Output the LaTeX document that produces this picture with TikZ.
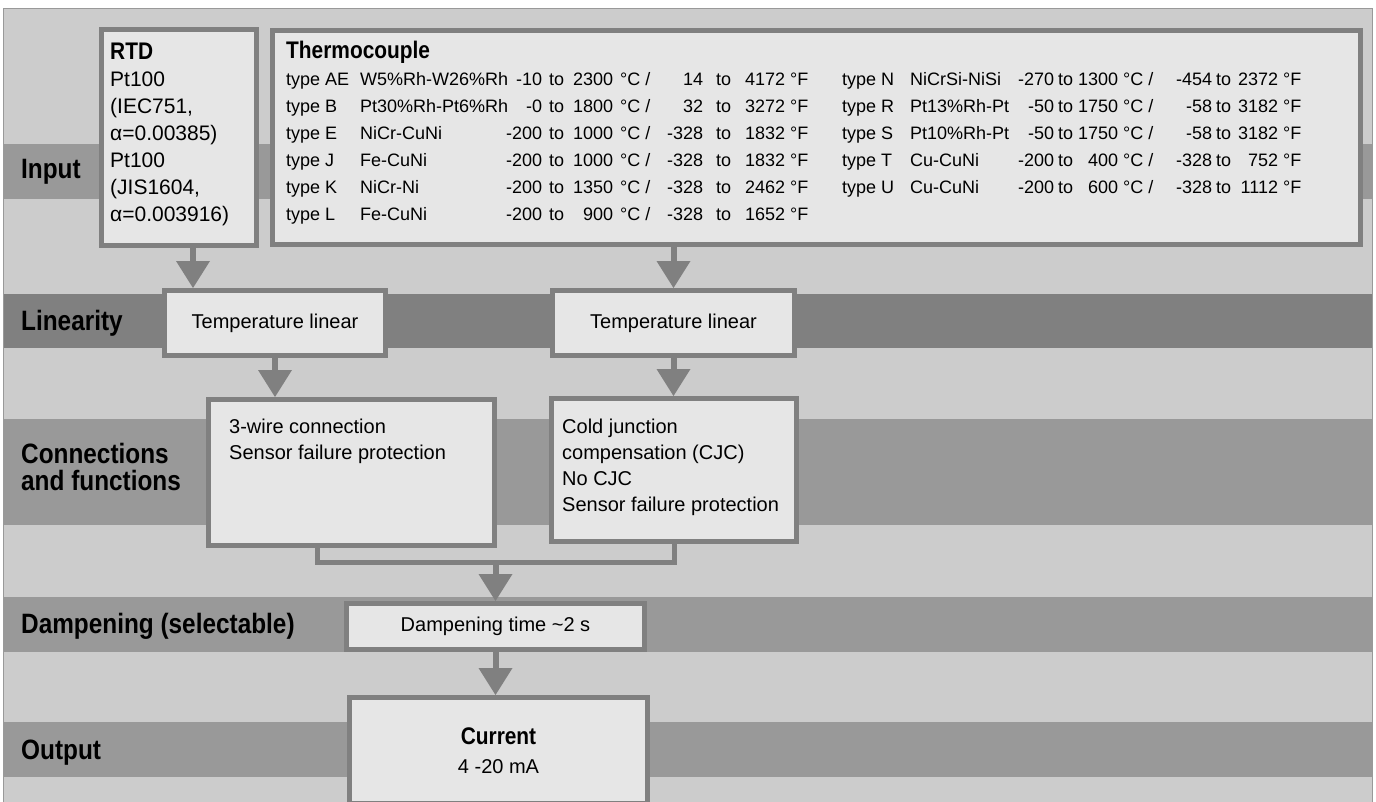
\documentclass[tikz,border=0pt]{standalone}
\usepackage{fontspec}
\setmainfont{Liberation Sans}
\newfontfamily\condfont{Liberation Sans}[FakeStretch=0.87]
\usetikzlibrary{arrows.meta,calc}
\definecolor{bggray}{HTML}{CCCCCC}
\definecolor{bandgray}{HTML}{999999}
\definecolor{lingray}{HTML}{808080}
\definecolor{boxgray}{HTML}{E6E6E6}
\definecolor{edgegray}{HTML}{808080}
\newcommand\headfont{\condfont\bfseries\fontsize{24}{27}\selectfont}
\newcommand\tcl[6]{\makebox[556pt][l]{\makebox[74pt][l]{type #1}\makebox[182pt][l]{#2}\llap{#3}\hbox to 71pt{\hspace{7pt}to\hfill #4}\hbox to 90pt{\hspace{7pt}°C /\hfill #5}\hbox to 82pt{\hspace{13pt}to\hfill #6} °F}}
\newcommand\tcr[6]{\makebox[68pt][l]{type #1}\makebox[144pt][l]{#2}\llap{#3}\hbox to 64pt{\hspace{4pt}to\hfill #4}\hbox to 94pt{\hspace{5pt}°C /\hfill #5}\hbox to 66pt{\hspace{4pt}to\hfill #6} °F}

\begin{document}
\begin{tikzpicture}[x=1pt,y=-1pt,box/.style={draw=edgegray,fill=boxgray,line width=5pt,inner sep=0pt,align=center,font=\fontsize{20}{26}\selectfont},txt/.style={inner sep=0pt,anchor=north west,align=left},lbl/.style={inner sep=0pt,anchor=base west,font=\condfont\bfseries\fontsize{28}{27}\selectfont},arr/.style={draw=edgegray,line width=6pt,-{Triangle[length=27pt,width=34pt,line width=0pt]}},conn/.style={draw=edgegray,line width=5pt}]
\useasboundingbox (0,0) rectangle (1376,801);
\fill[white] (0,0) rectangle (1376,801);
\filldraw[fill=bggray,draw=bandgray,line width=1.5pt] (3.5,8.5) rectangle (1372.5,830);
\foreach \ya/\yb in {144/199,419/525,597/652,722/777} \fill[bandgray] (4.25,\ya) rectangle (1371.75,\yb);
\fill[lingray] (4.25,294) rectangle (1371.75,348);
\node[lbl] (inlbl) at (21,178) {Input};
\node[lbl] (linlbl) at (21,330) {Linearity};
\node[lbl,anchor=north west,align=left] (conlbl) at (21,443) {Connections\\and functions};
\node[lbl] (damplbl) at (21,633) {Dampening (selectable)};
\node[lbl] (outlbl) at (21,759) {Output};
\node[box,minimum width=155pt,minimum height=216pt] (rtd) at (179,137.5) {};
\node[box,minimum width=1088pt,minimum height=214pt] (tc) at (816.5,137.5) {};
\node[box,minimum width=221pt,minimum height=65pt] (lin1) at (275,323) {Temperature linear};
\node[box,minimum width=242pt,minimum height=65pt] (lin2) at (673.5,323) {Temperature linear};
\node[box,minimum width=286pt,minimum height=146pt] (con1) at (351.5,472.5) {};
\node[box,minimum width=245pt,minimum height=143pt] (con2) at (674,470) {};
\node[box,minimum width=298pt,minimum height=46pt] (damp) at (495.5,626.5) {Dampening time \textasciitilde2 s};
\node[box,minimum width=298pt,minimum height=106pt] (out) at (498.5,750.5) {{\headfont Current}\\[3pt]4 -20 mA};
\node[txt,font=\fontsize{21}{27}\selectfont] (rtdtxt) at ([shift={(11,16)}]rtd.north west) {{\headfont RTD}\\Pt100\\(IEC751,\\α=0.00385)\\Pt100\\(JIS1604,\\α=0.003916)};
\node[txt,font=\fontsize{18}{27}\selectfont] (tctxt) at ([shift={(16,13)}]tc.north west) {{\headfont Thermocouple}\\
\tcl{AE}{W5\%Rh-W26\%Rh}{-10}{2300}{14}{4172}\tcr{N}{NiCrSi-NiSi}{-270}{1300}{-454}{2372}\\
\tcl{B}{Pt30\%Rh-Pt6\%Rh}{-0}{1800}{32}{3272}\tcr{R}{Pt13\%Rh-Pt}{-50}{1750}{-58}{3182}\\
\tcl{E}{NiCr-CuNi}{-200}{1000}{-328}{1832}\tcr{S}{Pt10\%Rh-Pt}{-50}{1750}{-58}{3182}\\
\tcl{J}{Fe-CuNi}{-200}{1000}{-328}{1832}\tcr{T}{Cu-CuNi}{-200}{400}{-328}{752}\\
\tcl{K}{NiCr-Ni}{-200}{1350}{-328}{2462}\tcr{U}{Cu-CuNi}{-200}{600}{-328}{1112}\\
\tcl{L}{Fe-CuNi}{-200}{900}{-328}{1652}};
\node[txt,font=\fontsize{20}{26}\selectfont] (con1txt) at ([shift={(23,22)}]con1.north west) {3-wire connection\\Sensor failure protection};
\node[txt,font=\fontsize{20}{26}\selectfont] (con2txt) at ([shift={(13,23)}]con2.north west) {Cold junction\\compensation (CJC)\\No CJC\\Sensor failure protection};
\draw[arr] ($(rtd.south)+(14,0)$) coordinate (rtdout) -- (rtdout |- lin1.north);
\draw[arr] (lin2.north |- tc.south) -- (lin2.north);
\draw[arr] (lin1.south) -- (lin1.south |- con1.north);
\draw[arr] (lin2.south) -- (lin2.south |- con2.north);
\coordinate (mj) at ($(con1.south)+(-34.5,14)$);
\draw[conn] (con1.south -| mj) -- (mj) -| (con2.south);
\draw[arr] (mj -| damp.north) -- (damp.north);
\draw[arr] (damp.south) -- (damp.south |- out.north);
\end{tikzpicture}
\end{document}
